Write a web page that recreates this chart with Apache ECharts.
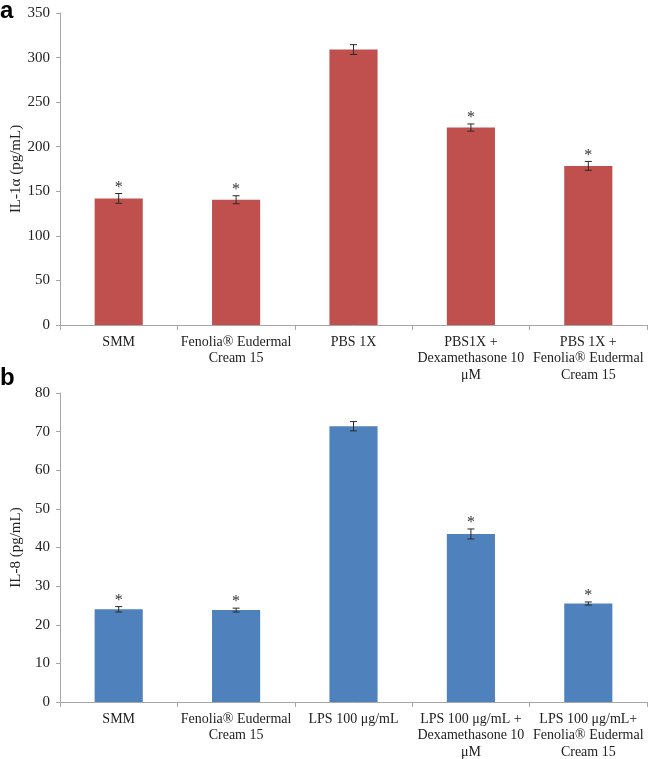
<!DOCTYPE html>
<html>
<head>
<meta charset="utf-8">
<script src="https://cdn.jsdelivr.net/npm/echarts@6/dist/echarts.min.js"></script>
<style>
html,body{margin:0;padding:0;background:#fff;}
#chart{width:649px;height:759px;}
</style>
</head>
<body>
<div id="chart"></div>
<script>
// Panel a: IL-1α
const categoriesA = ['SMM', 'Fenolia® Eudermal\nCream 15', 'PBS 1X', 'PBS1X +\nDexamethasone 10\nμM', 'PBS 1X +\nFenolia® Eudermal\nCream 15'];
const valuesA = [142, 140.5, 309, 221.5, 178.5];
const errorsA = [5.5, 4.5, 5.5, 4, 5];
const starsA = [true, true, false, true, true];
const yTicksA = {min: 0, max: 350, interval: 50};

// Panel b: IL-8
const categoriesB = ['SMM', 'Fenolia® Eudermal\nCream 15', 'LPS 100 μg/mL', 'LPS 100 μg/mL +\nDexamethasone 10\nμM', 'LPS 100 μg/mL+\nFenolia® Eudermal\nCream 15'];
const valuesB = [24, 23.8, 71.4, 43.5, 25.5];
const errorsB = [0.7, 0.5, 1.2, 1.3, 0.4];
const starsB = [true, true, false, true, true];
const yTicksB = {min: 0, max: 80, interval: 10};

const FONT = '"Liberation Serif", "Times New Roman", serif';
const axisGrey = '#A6A6A6';
const textCol = '#222';

function errData(vals, errs, stars) {
  return vals.map((v, i) => [i, v, errs[i], stars[i] ? 1 : 0]);
}

function renderErr(params, api) {
  const i = api.value(0), v = api.value(1), e = api.value(2), s = api.value(3);
  const top = api.coord([i, v + e]);
  const bot = api.coord([i, v - e]);
  const cap = 3.5;
  const st = {stroke: '#2b2b2b', lineWidth: 1};
  const children = [
    {type: 'line', shape: {x1: top[0], y1: top[1], x2: bot[0], y2: bot[1]}, style: st},
    {type: 'line', shape: {x1: top[0] - cap, y1: top[1], x2: top[0] + cap, y2: top[1]}, style: st},
    {type: 'line', shape: {x1: bot[0] - cap, y1: bot[1], x2: bot[0] + cap, y2: bot[1]}, style: st}
  ];
  if (s) {
    children.push({type: 'text', style: {text: '*', x: top[0], y: top[1] - 6, textAlign: 'center', textVerticalAlign: 'middle', font: '16px ' + FONT, fill: '#333'}});
  }
  return {type: 'group', children: children};
}

function xAxis(cats, gi, margin) {
  return {
    type: 'category', gridIndex: gi, data: cats,
    axisLine: {lineStyle: {color: axisGrey}},
    axisTick: {show: true, length: 5, lineStyle: {color: axisGrey}},
    axisLabel: {interval: 0, color: textCol, fontFamily: FONT, fontSize: 14, lineHeight: 16.5, margin: margin}
  };
}
function yAxis(t, name, gi) {
  return {
    type: 'value', gridIndex: gi, min: t.min, max: t.max, interval: t.interval,
    name: name, nameLocation: 'middle', nameGap: 36, nameMoveOverlap: false,
    nameTextStyle: {color: textCol, fontFamily: FONT, fontSize: 15},
    axisLine: {show: true, lineStyle: {color: axisGrey}},
    axisTick: {show: true, length: 4, lineStyle: {color: axisGrey}},
    splitLine: {show: false},
    axisLabel: {color: textCol, fontFamily: FONT, fontSize: 15, margin: 10}
  };
}

const chart = echarts.init(document.getElementById('chart'), null, {renderer: 'canvas'});
chart.setOption({
  animation: false,
  backgroundColor: '#fff',
  grid: [
    {left: 60, top: 13, width: 587, height: 312, containLabel: false, outerBoundsMode: 'none'},
    {left: 60, top: 393, width: 587, height: 309, containLabel: false, outerBoundsMode: 'none'}
  ],
  xAxis: [xAxis(categoriesA, 0, 9), xAxis(categoriesB, 1, 9)],
  yAxis: [yAxis(yTicksA, 'IL-1α (pg/mL)', 0), yAxis(yTicksB, 'IL-8 (pg/mL)', 1)],
  graphic: [
    {type: 'text', left: 0, top: -1, style: {text: 'a', font: 'bold 24px "Liberation Sans", Arial, sans-serif', fill: '#000'}},
    {type: 'text', left: 0, top: 366, style: {text: 'b', font: 'bold 24px "Liberation Sans", Arial, sans-serif', fill: '#000'}}
  ],
  series: [
    {type: 'bar', xAxisIndex: 0, yAxisIndex: 0, data: valuesA, barWidth: '41%', itemStyle: {color: '#C0504D'}},
    {type: 'custom', xAxisIndex: 0, yAxisIndex: 0, data: errData(valuesA, errorsA, starsA), renderItem: renderErr, z: 5},
    {type: 'bar', xAxisIndex: 1, yAxisIndex: 1, data: valuesB, barWidth: '41%', itemStyle: {color: '#4F81BD'}},
    {type: 'custom', xAxisIndex: 1, yAxisIndex: 1, data: errData(valuesB, errorsB, starsB), renderItem: renderErr, z: 5}
  ]
});
</script>
</body>
</html>
